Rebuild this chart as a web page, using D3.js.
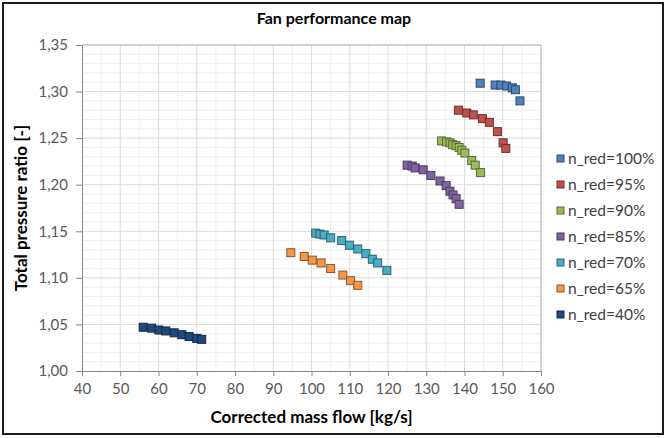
<!DOCTYPE html>
<head>
    <meta charset="utf-8">
    <script src="https://d3js.org/d3.v7.min.js"></script>
    <style>
        body { margin: 0; background: #fff; }
        text { font-family: Lato, "Open Sans", sans-serif; }
    </style>
</head>

<body>
    <svg width="667" height="438"></svg>

    <script>
        // series: [mass flow kg/s, pressure ratio]
        const seriesNames = ["n_red=100%", "n_red=95%", "n_red=90%", "n_red=85%", "n_red=70%", "n_red=65%", "n_red=40%"]
        const seriesColors = ["#4f81bd", "#c0504d", "#9bbb59", "#8064a2", "#4bacc6", "#f79646", "#1f497d"]

        const n100 = [[144.1, 1.309], [148.0, 1.307], [149.5, 1.307], [151.0, 1.306], [152.5, 1.304], [153.3, 1.302], [154.5, 1.290]]
        const n95 = [[138.4, 1.280], [140.6, 1.277], [142.3, 1.275], [144.7, 1.271], [146.5, 1.267], [148.6, 1.257], [150.1, 1.245], [150.8, 1.239]]
        const n90 = [[134.0, 1.247], [135.3, 1.246], [136.2, 1.245], [136.9, 1.243], [137.8, 1.242], [138.6, 1.240], [139.3, 1.237], [140.1, 1.234], [141.9, 1.226], [142.8, 1.221], [144.2, 1.213]]
        const n85 = [[125.0, 1.221], [126.3, 1.220], [127.1, 1.218], [129.2, 1.216], [131.2, 1.210], [133.6, 1.204], [135.2, 1.199], [136.2, 1.193], [137.0, 1.189], [137.8, 1.185], [138.6, 1.179]]
        const n70 = [[101.1, 1.148], [102.2, 1.147], [103.3, 1.146], [105.0, 1.143], [107.9, 1.140], [109.9, 1.135], [112.1, 1.131], [114.2, 1.126], [115.9, 1.120], [117.3, 1.116], [119.7, 1.108]]
        const n65 = [[94.6, 1.127], [98.1, 1.123], [100.2, 1.119], [102.5, 1.116], [105.0, 1.110], [108.2, 1.103], [110.2, 1.097], [112.1, 1.092]]
        const n40 = [[56.0, 1.047], [58.2, 1.046], [60.1, 1.044], [61.9, 1.043], [64.1, 1.041], [66.1, 1.039], [68.0, 1.037], [70.0, 1.035], [71.3, 1.034]]
        const allSeries = [n100, n95, n90, n85, n70, n65, n40]

        const xTicks = d3.range(40, 161, 10)
        const yTicks = [1.00, 1.05, 1.10, 1.15, 1.20, 1.25, 1.30, 1.35]

        let svg = d3.select("svg")
        const pLeft = 82, pRight = 541, pTop = 45, pBottom = 371

        const x = d3.scaleLinear().domain([40, 160]).range([pLeft, pRight])
        const y = d3.scaleLinear().domain([1.00, 1.35]).range([pBottom, pTop])
        const fmt = d => d3.format(".2f")(d).replace(".", ",")

        // outer frame
        svg.append("rect")
            .attr("x", 3).attr("y", 3).attr("width", 660).attr("height", 431)
            .attr("fill", "#fff").attr("stroke", "#1a1a1a").attr("stroke-width", 2)

        // minor grid
        const g = svg.append("g")
        g.selectAll("line.xminor")
            .data(d3.range(45, 160, 10))
            .enter().append("line")
            .attr("x1", d => x(d)).attr("x2", d => x(d))
            .attr("y1", pTop).attr("y2", pBottom)
            .attr("stroke", "#efefef")
        g.selectAll("line.yminor")
            .data(d3.range(1, 35).filter(i => i % 5 != 0).map(i => 1 + i / 100))
            .enter().append("line")
            .attr("x1", pLeft).attr("x2", pRight)
            .attr("y1", d => y(d)).attr("y2", d => y(d))
            .attr("stroke", "#efefef")

        // major grid
        g.selectAll("line.xmajor")
            .data(xTicks.slice(1, -1))
            .enter().append("line")
            .attr("x1", d => x(d)).attr("x2", d => x(d))
            .attr("y1", pTop).attr("y2", pBottom)
            .attr("stroke", "#dcdcdc")
        g.selectAll("line.ymajor")
            .data(yTicks.slice(1, -1))
            .enter().append("line")
            .attr("x1", pLeft).attr("x2", pRight)
            .attr("y1", d => y(d)).attr("y2", d => y(d))
            .attr("stroke", "#dcdcdc")

        // plot area border (top, right)
        svg.append("path")
            .attr("d", `M${pLeft},${pTop}H${pRight}V${pBottom}`)
            .attr("fill", "none").attr("stroke", "#a6a6a6")

        // axes
        const xAxis = svg.append("g")
            .attr("transform", `translate(0,${pBottom})`)
            .call(d3.axisBottom(x).tickValues(xTicks).tickSize(5).tickSizeOuter(0).tickPadding(7))
        const yAxis = svg.append("g")
            .attr("transform", `translate(${pLeft},0)`)
            .call(d3.axisLeft(y).tickValues(yTicks).tickFormat(fmt).tickSize(6).tickSizeOuter(0).tickPadding(8))
        for (const ax of [xAxis, yAxis]) {
            ax.select(".domain").attr("stroke", "#868686")
            ax.selectAll(".tick line").attr("stroke", "#868686")
            ax.selectAll(".tick text").attr("fill", "#595959").style("font-size", "15px").style("font-family", "Lato, sans-serif")
        }

        // markers
        allSeries.forEach((s, i) => {
            svg.append("g").selectAll("rect")
                .data(s)
                .enter().append("rect")
                .attr("x", d => x(d[0]) - 4)
                .attr("y", d => y(d[1]) - 4)
                .attr("width", 8).attr("height", 8)
                .attr("fill", seriesColors[i])
                .attr("stroke", d3.color(seriesColors[i]).darker(1.6))
                .attr("stroke-width", 1)
        })

        // titles
        svg.append("text")
            .attr("x", 334).attr("y", 24)
            .attr("text-anchor", "middle")
            .style("font-size", "16px").style("font-weight", "bold")
            .text("Fan performance map")
        svg.append("text")
            .attr("x", (pLeft + pRight) / 2).attr("y", 423)
            .attr("text-anchor", "middle")
            .style("font-size", "17px").style("font-weight", "bold")
            .text("Corrected mass flow [kg/s]")
        svg.append("text")
            .attr("transform", `translate(27,${(pTop + pBottom) / 2}) rotate(-90)`)
            .attr("text-anchor", "middle")
            .style("font-size", "17px").style("font-weight", "bold")
            .text("Total pressure ratio [-]")

        // legend
        const leg = svg.append("g").selectAll("g")
            .data(seriesNames)
            .enter().append("g")
            .attr("transform", (d, i) => `translate(557,${159 + i * 26})`)
        leg.append("rect")
            .attr("x", 0).attr("y", -4).attr("width", 7).attr("height", 7)
            .attr("fill", (d, i) => seriesColors[i])
            .attr("stroke", (d, i) => d3.color(seriesColors[i]).darker(1.6))
        leg.append("text")
            .attr("x", 11).attr("y", 5)
            .attr("fill", "#404040")
            .style("font-size", "15.5px")
            .text(d => d)
    </script>
</body>
